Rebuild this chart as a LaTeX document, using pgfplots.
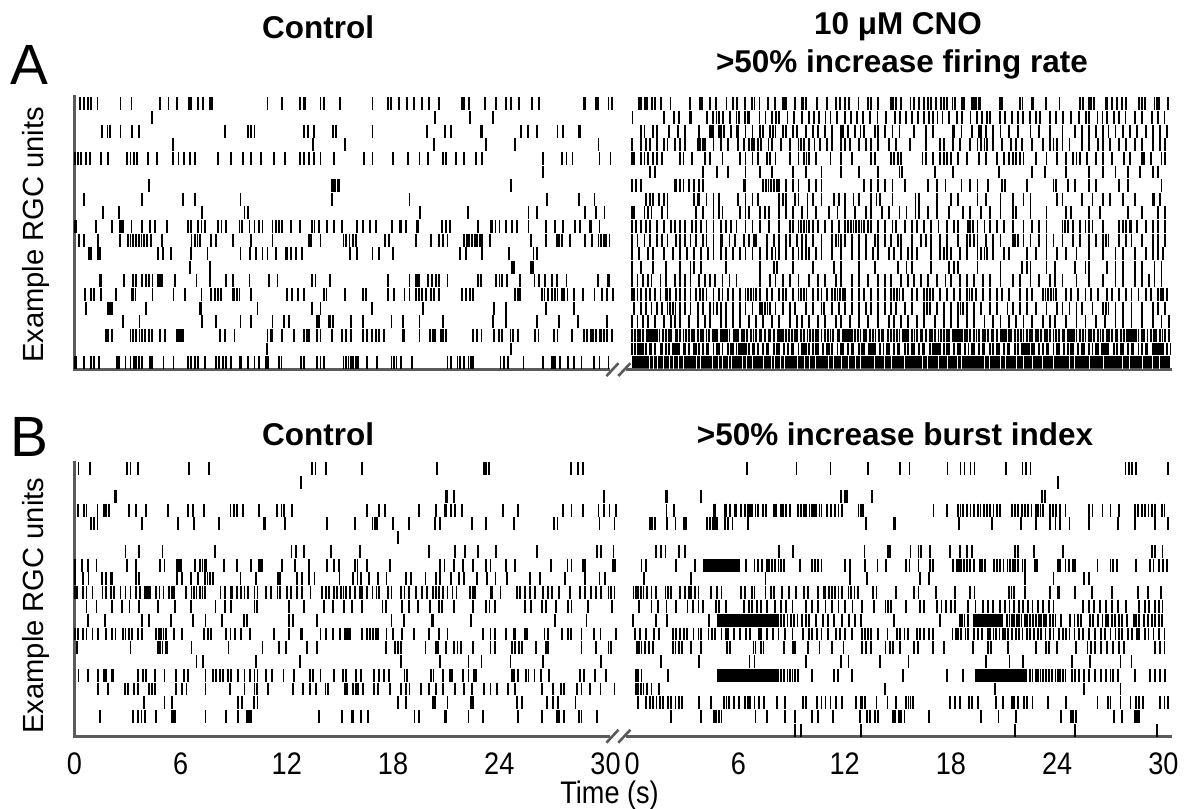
\documentclass[border=0pt]{standalone}
\usepackage{pgfplots}
\pgfplotsset{compat=1.18}
\usepackage{fontspec}
\usepackage{graphicx}
\setmainfont{Liberation Sans}

\definecolor{axg}{RGB}{90,90,90}
\pgfplotsset{
  spk/.style={only marks, mark=|, mark size=2.5pt, line width=0.7pt, black},
  gap/.style={only marks, mark=|, mark size=2.5pt, line width=0.35pt, white},
  bst/.style={no marks, line width=5pt, line cap=butt, black},
  rast/.style={scale only axis, width=14.958cm, xmin=0, xmax=62, clip=false,
    axis line style={draw=none}, ytick=\empty, xtick=\empty, anchor=south west},
}
% one row of spikes: offset, row, times
\newcommand{\R}[3]{\addplot[spk] table[row sep=\\, header=false, x expr=\thisrowno{0}+#1, y expr=#2]{#3};}
% a burst drawn as a solid bar: offset, row, start, end
\newcommand{\Bu}[4]{\addplot[bst] table[row sep=\\, header=false, x expr=\thisrowno{0}+#1, y expr=#2]{#3\\#4\\};}
\newcommand{\ttl}{\fontsize{12.2}{14}\selectfont\bfseries}
\newcommand{\tl}[1]{\scalebox{1}[1.15]{#1}}

\begin{document}
\begin{tikzpicture}
\begin{scope}[x=0.0135cm, y=-0.0135cm]
  \useasboundingbox (0,0) rectangle (1187,816);
  \node[font=\ttl] at (321,27) {Control};
  \node[font=\ttl] at (906,27) {10 μM CNO};
  \node[font=\ttl] at (910,65) {>50\% increase firing rate};
  \node[font=\fontsize{22}{24}\selectfont] at (30,66) {A};
  \node[font=\fontsize{22}{24}\selectfont] at (30,441) {B};
  \node[font=\ttl] at (321,438) {Control};
  \node[font=\ttl] at (903,438) {>50\% increase burst index};
  \node[font=\fontsize{11.3}{13}\selectfont, rotate=90] at (36,237) {Example RGC units};
  \node[font=\fontsize{11.3}{13}\selectfont, rotate=90] at (36,611) {Example RGC units};
  \node[font=\fontsize{10.5}{12}\selectfont] at (615,803) {\tl{Time (s)}};
\end{scope}

% ---------------- panel A ----------------
\begin{axis}[rast, at={(1.0125cm,-5.0355cm)}, height=3.7395cm, ymin=0.49, ymax=20.64]
% control
\R{0}{20}{0.34\\0.56\\0.75\\0.93\\1.31\\2.61\\3.23\\4.85\\5.32\\5.82\\6.47\\6.59\\7.0\\7.28\\7.67\\7.76\\10.91\\11.75\\12.74\\12.97\\13.06\\13.9\\14.09\\15.0\\16.84\\17.72\\17.87\\18.34\\18.8\\19.18\\19.64\\20.05\\20.61\\21.88\\22.01\\22.29\\23.19\\23.82\\24.38\\24.68\\25.09\\25.84\\26.25\\28.79\\28.86\\29.44\\29.57\\30.17\\30.35\\}
\R{0}{19}{4.38\\20.37\\22.33\\23.65\\}
\R{0}{18}{1.55\\1.87\\2.01\\2.61\\3.26\\3.64\\8.49\\9.79\\9.98\\10.17\\12.97\\13.19\\13.53\\14.61\\14.8\\16.84\\19.9\\20.95\\21.27\\22.95\\23.04\\25.24\\25.61\\26.12\\27.29\\27.61\\28.47\\28.56\\}
\R{0}{17}{5.56\\13.49\\15.3\\20.3\\23.23\\24.9\\29.6\\}
\R{0}{16}{0.02\\0.19\\0.37\\0.65\\0.88\\1.49\\1.92\\2.99\\3.17\\3.36\\3.54\\4.16\\4.66\\5.56\\5.88\\6.21\\6.53\\6.81\\8.12\\8.86\\9.51\\9.98\\10.54\\11.29\\11.88\\12.74\\12.97\\13.25\\13.53\\13.9\\14.65\\16.36\\16.84\\18.0\\18.84\\19.49\\19.96\\20.8\\20.99\\21.55\\22.01\\22.67\\23.04\\26.49\\27.52\\27.8\\28.13\\29.66\\30.28\\}
\R{0}{15}{26.49\\}
\R{0}{14}{4.24\\14.55\\14.65\\14.74\\14.87\\14.98\\24.66\\}
\R{0}{13}{0.56\\3.82\\6.16\\6.81\\9.38\\14.55\\18.93\\26.68\\28.5\\29.38\\}
\R{0}{12}{1.64\\2.52\\7.22\\9.61\\9.83\\19.53\\22.25\\25.65\\26.12\\28.86\\29.48\\29.94\\}
\R{0}{11}{0.02\\0.08\\1.21\\2.15\\2.57\\2.67\\2.76\\3.23\\3.82\\4.29\\4.57\\5.22\\6.44\\6.57\\7.0\\7.18\\7.37\\8.12\\8.31\\8.58\\9.33\\9.48\\9.89\\10.17\\10.41\\10.63\\11.19\\11.38\\11.57\\11.75\\12.22\\12.74\\13.43\\13.56\\13.81\\14.27\\14.65\\15.11\\15.95\\16.32\\16.7\\17.03\\17.96\\18.37\\18.47\\18.75\\19.36\\19.44\\20.76\\20.99\\21.21\\22.81\\23.51\\23.6\\23.79\\24.01\\24.38\\24.72\\25.0\\25.65\\26.62\\27.14\\27.61\\28.26\\28.54\\29.1\\29.16\\29.66\\}
\R{0}{10}{0.28\\0.56\\1.36\\2.57\\3.04\\3.17\\3.3\\3.49\\3.64\\3.79\\3.94\\4.1\\4.35\\4.94\\6.62\\6.81\\6.96\\7.09\\7.74\\8.02\\8.96\\9.98\\11.19\\13.25\\13.38\\13.9\\15.2\\15.35\\15.54\\15.73\\15.91\\17.54\\17.78\\19.31\\20.15\\20.61\\20.8\\21.08\\22.01\\22.16\\22.29\\22.48\\22.63\\22.76\\22.89\\23.04\\23.47\\25.8\\26.62\\27.24\\27.37\\27.55\\27.98\\28.82\\29.23\\29.6\\29.76\\29.9\\30.04\\30.22\\}
\R{0}{9}{0.84\\0.93\\1.36\\1.46\\4.72\\5.0\\5.47\\6.59\\7.52\\9.38\\9.94\\10.26\\10.63\\10.91\\11.38\\11.94\\12.03\\12.22\\12.5\\12.87\\15.58\\15.95\\16.84\\17.22\\18.0\\21.77\\22.1\\23.04\\24.57\\25.93\\26.12\\}
\R{0}{8}{6.53\\7.65\\24.72\\24.8\\24.85\\25.8\\25.86\\25.93\\}
\R{0}{7}{1.44\\1.49\\2.8\\3.3\\3.49\\3.82\\4.05\\4.24\\4.42\\4.72\\4.85\\4.94\\5.69\\6.9\\7.65\\8.58\\8.96\\9.89\\11.01\\11.47\\13.43\\13.62\\14.46\\17.72\\18.93\\19.31\\19.4\\19.49\\19.96\\20.2\\20.43\\20.58\\21.08\\22.81\\22.95\\23.82\\24.01\\24.16\\24.44\\25.18\\25.99\\26.25\\26.59\\26.96\\27.24\\27.8\\29.57\\30.13\\30.22\\}
\R{0}{6}{0.62\\0.93\\1.12\\1.49\\2.37\\3.23\\3.3\\3.45\\4.42\\5.6\\6.25\\7.18\\7.74\\7.93\\8.12\\8.3\\8.96\\9.05\\9.2\\9.33\\9.98\\12.03\\12.31\\12.63\\12.97\\14.09\\14.24\\15.3\\16.32\\16.47\\17.72\\18.04\\18.65\\18.93\\19.31\\19.46\\19.64\\19.87\\20.15\\20.33\\20.58\\21.88\\22.1\\22.33\\22.52\\24.9\\25.05\\25.18\\26.4\\26.55\\26.77\\26.96\\27.14\\27.29\\27.52\\27.66\\27.85\\28.23\\28.73\\29.38\\29.79\\30.09\\30.41\\}
\R{0}{5}{0.65\\1.92\\2.01\\2.15\\4.05\\7.09\\7.18\\10.35\\13.43\\13.9\\16.79\\19.68\\23.69\\24.38\\26.62\\28.23\\}
\R{0}{4}{2.76\\3.68\\7.22\\8.02\\9.38\\9.98\\11.19\\11.85\\12.13\\13.71\\13.81\\14.37\\14.46\\14.61\\15.61\\16.29\\17.91\\18.56\\19.49\\20.8\\23.64\\24.38\\26.12\\27.37\\28.45\\30.09\\}
\R{0}{3}{1.77\\1.92\\2.15\\3.17\\3.3\\3.49\\3.68\\3.82\\4.01\\4.2\\4.38\\4.85\\5.13\\5.78\\5.91\\6.03\\6.16\\8.21\\8.49\\9.05\\10.91\\11.1\\11.19\\11.75\\12.41\\12.97\\13.12\\13.25\\13.71\\13.9\\14.55\\15.11\\15.35\\15.61\\16.32\\16.55\\16.79\\17.03\\17.22\\17.48\\18.56\\18.65\\19.49\\20.09\\20.24\\20.39\\20.71\\20.8\\20.99\\22.52\\22.76\\23.0\\23.69\\23.97\\24.16\\24.63\\24.76\\25.05\\26.03\\26.21\\27.1\\27.29\\28.11\\28.79\\28.97\\29.16\\29.29\\29.48\\29.66\\29.76\\29.9\\30.09\\30.35\\}
\R{0}{2}{10.86\\24.68\\}
\R{0}{1}{0.02\\0.09\\0.56\\0.93\\1.12\\1.4\\2.43\\2.52\\2.89\\3.17\\3.36\\3.49\\3.64\\3.82\\4.29\\4.38\\5.04\\5.6\\6.44\\6.59\\6.81\\7.0\\7.37\\8.02\\8.17\\8.4\\8.58\\8.86\\9.33\\9.42\\9.79\\10.17\\10.45\\10.82\\10.95\\11.57\\11.7\\12.78\\12.97\\13.71\\13.9\\14.09\\15.2\\15.35\\15.48\\15.61\\15.76\\15.91\\16.04\\16.51\\17.11\\17.91\\18.04\\18.19\\18.47\\19.08\\21.08\\21.27\\21.64\\21.77\\22.01\\22.26\\22.39\\22.52\\24.07\\24.25\\24.5\\25.37\\26.49\\26.96\\27.05\\27.14\\27.42\\27.89\\28.23\\28.64\\29.34\\29.66\\30.17\\}
% 10 uM CNO
\R{31.5}{20}{0.4\\0.49\\0.71\\0.86\\1.14\\1.27\\1.61\\2.17\\3.28\\3.84\\3.93\\4.4\\4.74\\5.33\\5.7\\5.93\\6.36\\6.78\\6.91\\7.19\\7.66\\8.09\\8.5\\8.59\\8.68\\9.2\\9.58\\9.65\\9.8\\10.45\\11.01\\11.51\\11.76\\12.04\\12.26\\12.78\\13.3\\13.49\\13.9\\14.6\\14.74\\14.92\\15.2\\15.72\\15.94\\16.22\\16.5\\16.69\\16.87\\17.15\\17.43\\17.62\\17.77\\18.09\\18.22\\18.64\\18.74\\19.2\\19.3\\19.44\\19.57\\19.67\\20.79\\20.88\\21.9\\22.05\\22.55\\22.65\\23.39\\24.14\\25.29\\25.44\\25.81\\25.91\\26.09\\26.74\\26.84\\27.12\\27.4\\27.68\\27.9\\28.61\\28.79\\28.98\\29.5\\29.63\\29.76\\30.25\\}
\R{31.5}{19}{0.02\\1.79\\2.35\\2.63\\3.25\\3.32\\4.21\\4.59\\4.77\\4.92\\5.11\\5.52\\5.89\\6.04\\6.36\\6.54\\6.63\\7.19\\7.53\\7.9\\8.12\\8.31\\8.78\\9.15\\9.58\\9.99\\10.27\\10.55\\10.92\\11.2\\11.57\\12.04\\12.37\\12.69\\13.06\\13.43\\13.86\\14.36\\14.83\\15.11\\15.48\\15.79\\16.13\\16.5\\16.78\\16.97\\17.25\\17.53\\17.9\\18.36\\18.64\\19.11\\19.48\\19.76\\20.04\\20.23\\20.79\\21.06\\21.44\\21.81\\22.09\\22.46\\22.83\\23.02\\23.58\\23.95\\24.32\\24.79\\25.25\\25.63\\25.81\\26.28\\26.56\\26.84\\27.21\\27.49\\27.86\\28.42\\28.79\\29.35\\29.72\\30.06\\}
\R{31.5}{18}{0.5\\0.7\\1.2\\1.4\\2.1\\2.6\\3.0\\3.8\\4.4\\4.5\\4.6\\4.9\\5.0\\5.2\\5.6\\5.9\\6.0\\6.4\\6.8\\7.2\\7.4\\7.8\\7.95\\8.1\\8.5\\8.7\\9.1\\9.3\\9.8\\10.2\\10.5\\10.9\\11.3\\11.8\\11.9\\12.2\\12.6\\12.9\\13.1\\13.7\\13.9\\14.3\\14.7\\15.1\\15.9\\16.6\\17.0\\18.1\\18.2\\18.6\\19.2\\19.6\\19.7\\20.0\\20.4\\20.8\\21.3\\21.8\\22.5\\23.0\\23.6\\24.3\\25.0\\25.4\\25.8\\26.2\\26.6\\26.9\\27.3\\27.7\\28.1\\28.5\\29.0\\29.4\\29.8\\30.2\\}
\R{31.5}{17}{0.0\\0.5\\0.8\\1.0\\1.4\\1.8\\2.0\\2.4\\2.7\\3.0\\3.7\\3.85\\4.0\\4.1\\4.6\\5.0\\5.4\\6.0\\6.3\\6.6\\6.75\\6.9\\7.1\\7.3\\7.7\\7.9\\8.4\\8.9\\9.4\\9.55\\9.7\\10.0\\10.3\\10.6\\11.0\\11.3\\11.8\\12.0\\12.3\\12.8\\13.2\\13.5\\13.9\\14.5\\14.9\\15.7\\16.6\\17.4\\17.6\\18.1\\18.5\\19.1\\19.5\\19.7\\19.9\\20.05\\20.4\\20.9\\21.4\\21.7\\22.0\\22.6\\23.2\\23.6\\23.8\\24.0\\24.3\\24.7\\25.4\\25.8\\26.3\\26.6\\27.0\\27.5\\27.9\\28.4\\28.8\\29.4\\29.8\\30.1\\}
\R{31.5}{16}{0.0\\0.1\\0.5\\0.7\\0.9\\1.2\\1.4\\1.7\\2.7\\2.9\\3.4\\4.1\\4.4\\5.1\\6.1\\6.4\\6.8\\7.1\\7.6\\7.8\\8.1\\8.9\\9.4\\9.7\\9.85\\10.0\\10.4\\11.2\\11.8\\12.4\\13.5\\13.7\\14.6\\14.8\\15.0\\15.2\\16.4\\16.6\\17.0\\17.4\\17.6\\17.8\\18.0\\18.4\\18.9\\19.6\\20.0\\20.6\\21.0\\21.3\\21.5\\21.7\\21.9\\22.1\\22.8\\23.4\\24.0\\24.5\\24.9\\25.1\\25.3\\25.7\\26.2\\26.6\\27.1\\27.8\\28.1\\28.8\\28.9\\29.3\\29.9\\30.1\\}
\R{31.5}{15}{1.0\\1.3\\4.0\\4.8\\5.4\\6.4\\7.2\\7.9\\9.1\\9.8\\10.7\\11.8\\12.8\\13.9\\15.1\\15.25\\17.1\\18.1\\20.7\\22.6\\23.3\\24.5\\25.8\\26.6\\27.3\\28.0\\28.7\\29.4\\29.7\\}
\R{31.5}{14}{0.0\\0.2\\0.5\\2.4\\2.5\\2.7\\2.9\\3.2\\3.5\\3.8\\4.0\\6.3\\6.4\\7.4\\7.55\\7.7\\7.85\\8.0\\8.2\\8.3\\8.7\\9.1\\9.4\\10.0\\10.4\\10.7\\13.1\\13.5\\13.9\\14.3\\14.7\\15.4\\16.7\\17.2\\17.7\\18.6\\19.1\\19.5\\20.1\\20.9\\21.05\\22.3\\23.8\\23.95\\24.6\\25.0\\25.8\\26.2\\27.5\\28.0\\29.9\\}
\R{31.5}{13}{0.8\\1.0\\1.2\\1.5\\1.8\\2.0\\3.5\\3.7\\3.8\\4.2\\4.6\\4.9\\6.0\\6.4\\6.8\\7.1\\8.3\\8.5\\8.7\\9.2\\9.4\\9.9\\10.2\\10.7\\11.4\\11.7\\12.0\\12.5\\12.8\\13.5\\13.8\\14.0\\14.7\\16.0\\16.2\\17.2\\18.0\\18.4\\19.5\\20.0\\20.8\\21.5\\22.1\\22.5\\24.0\\24.3\\25.4\\26.0\\26.6\\27.0\\27.7\\28.4\\29.4\\29.5\\29.8\\}
\R{31.5}{12}{0.0\\0.1\\0.7\\0.9\\1.1\\1.7\\2.0\\3.6\\4.0\\4.6\\4.9\\5.1\\6.1\\6.4\\6.6\\7.2\\7.5\\7.75\\8.3\\8.7\\9.1\\9.6\\9.9\\10.4\\11.1\\11.6\\12.0\\12.6\\13.2\\13.5\\14.1\\14.5\\15.1\\15.5\\16.0\\16.2\\16.7\\17.2\\17.9\\18.7\\19.1\\19.7\\20.2\\20.8\\21.5\\21.7\\22.5\\23.4\\24.5\\24.8\\25.8\\26.4\\28.0\\28.8\\29.7\\30.1\\}
\R{31.5}{11}{0.0\\0.2\\0.5\\0.8\\1.0\\1.4\\1.8\\2.2\\2.4\\2.7\\3.0\\3.4\\3.6\\3.9\\4.2\\4.6\\5.0\\5.3\\5.6\\5.9\\6.4\\6.8\\7.2\\7.75\\8.3\\8.9\\9.1\\9.4\\9.55\\9.7\\9.85\\10.0\\10.2\\10.5\\10.9\\11.3\\11.7\\12.0\\12.2\\12.35\\12.5\\12.65\\12.8\\12.95\\13.1\\13.3\\13.5\\13.9\\14.3\\14.7\\14.9\\15.4\\15.8\\16.1\\16.5\\16.9\\17.3\\17.8\\18.2\\18.4\\18.95\\19.1\\19.25\\19.5\\19.9\\20.2\\20.6\\21.0\\21.5\\22.1\\22.6\\23.0\\23.4\\24.3\\24.45\\24.6\\24.9\\25.3\\25.6\\25.8\\26.0\\26.6\\27.5\\27.7\\27.9\\28.1\\28.2\\28.5\\29.0\\29.4\\29.7\\30.1\\}
\R{31.5}{10}{0.0\\0.3\\0.7\\1.0\\1.4\\1.7\\2.0\\2.5\\2.7\\3.0\\3.3\\3.6\\4.0\\4.2\\4.6\\5.0\\5.1\\5.5\\5.8\\6.3\\6.6\\6.9\\7.0\\7.6\\8.0\\8.3\\8.7\\8.9\\9.3\\9.6\\9.8\\10.2\\10.7\\11.3\\11.5\\11.65\\11.8\\12.0\\12.4\\12.8\\13.2\\13.7\\13.9\\14.3\\14.6\\15.0\\15.2\\15.8\\16.3\\16.6\\16.9\\17.4\\17.8\\18.4\\18.9\\19.1\\19.3\\19.5\\20.0\\20.4\\20.8\\21.5\\21.6\\21.8\\22.1\\22.5\\23.0\\23.4\\23.8\\24.3\\24.9\\25.3\\25.8\\26.2\\26.6\\26.75\\26.9\\27.5\\27.9\\28.2\\28.8\\29.4\\29.7\\30.1\\}
\R{31.5}{9}{0.0\\0.4\\0.9\\1.2\\1.8\\2.3\\2.7\\3.1\\3.5\\3.9\\4.3\\4.6\\5.0\\5.3\\5.7\\6.1\\6.4\\6.8\\7.2\\7.6\\7.9\\8.1\\8.3\\8.7\\9.1\\9.4\\9.6\\9.8\\10.0\\10.4\\10.7\\11.3\\11.8\\12.4\\12.8\\13.2\\13.6\\13.9\\14.5\\14.8\\15.2\\15.6\\15.8\\16.1\\16.9\\17.4\\17.6\\17.8\\18.0\\18.5\\18.9\\19.5\\19.7\\19.9\\20.05\\20.4\\21.0\\21.3\\22.3\\22.8\\23.4\\24.0\\24.5\\25.1\\25.8\\26.6\\27.3\\27.7\\28.4\\29.0\\29.4\\29.7\\30.0\\}
\R{31.5}{8}{0.0\\0.5\\1.2\\1.9\\2.7\\3.3\\3.5\\3.9\\5.3\\7.2\\8.0\\8.2\\9.1\\10.2\\11.4\\11.8\\12.8\\13.7\\15.0\\15.5\\15.8\\16.9\\17.9\\18.2\\18.4\\19.5\\20.8\\22.0\\22.3\\22.5\\23.4\\23.9\\25.0\\25.6\\25.8\\26.8\\27.3\\27.7\\28.4\\28.8\\29.5\\29.9\\}
\R{31.5}{7}{0.0\\0.3\\0.6\\0.9\\1.1\\1.6\\1.9\\2.4\\2.7\\3.0\\3.3\\3.8\\4.1\\4.4\\4.7\\5.1\\5.5\\5.9\\7.2\\7.8\\8.1\\8.5\\8.9\\9.4\\10.0\\10.5\\10.9\\11.5\\11.8\\12.4\\12.8\\13.3\\13.9\\14.3\\14.6\\15.2\\15.6\\15.9\\16.3\\16.7\\17.2\\17.7\\18.0\\18.5\\18.9\\19.3\\19.8\\20.2\\20.8\\21.5\\21.9\\22.5\\23.0\\23.6\\23.9\\24.3\\25.1\\25.8\\26.6\\27.3\\27.7\\28.4\\28.8\\29.2\\29.5\\29.9\\}
\R{31.5}{6}{0.0\\0.1\\0.3\\0.5\\0.8\\1.0\\1.3\\1.6\\1.9\\2.0\\2.15\\2.5\\2.7\\3.0\\3.3\\3.6\\3.85\\4.0\\4.2\\4.6\\4.9\\5.1\\5.4\\5.7\\6.1\\6.4\\6.55\\6.7\\6.85\\7.0\\7.2\\7.6\\7.9\\8.3\\8.5\\8.7\\9.1\\9.4\\9.55\\9.7\\9.85\\10.2\\10.5\\10.7\\11.0\\11.3\\11.45\\11.6\\11.75\\11.9\\12.0\\12.4\\12.8\\13.1\\13.5\\13.9\\14.3\\14.6\\14.8\\14.95\\15.1\\15.3\\15.8\\16.1\\16.5\\16.65\\16.8\\17.0\\17.4\\17.8\\18.2\\18.5\\18.9\\19.05\\19.2\\19.4\\19.8\\20.2\\20.6\\20.9\\21.3\\21.9\\22.3\\22.6\\23.2\\23.35\\23.5\\23.65\\23.8\\23.95\\24.5\\24.8\\25.2\\25.6\\25.9\\26.3\\26.8\\27.1\\27.5\\27.9\\28.2\\28.6\\29.0\\29.3\\29.7\\29.85\\30.0\\30.2\\}
\R{31.5}{5}{0.1\\0.5\\0.8\\1.1\\1.4\\1.7\\2.0\\2.15\\2.3\\2.45\\2.7\\3.0\\3.3\\3.7\\4.0\\4.4\\4.6\\4.8\\5.0\\5.3\\5.7\\6.1\\6.4\\6.8\\7.2\\7.35\\7.5\\7.65\\7.8\\8.1\\8.5\\8.9\\9.2\\9.8\\10.2\\10.7\\10.85\\11.3\\11.7\\12.0\\12.4\\12.8\\13.2\\13.5\\13.9\\14.3\\14.6\\14.9\\15.4\\15.8\\16.5\\16.65\\16.8\\17.2\\17.6\\18.0\\18.4\\18.55\\18.7\\18.9\\19.3\\19.7\\20.2\\20.6\\21.2\\21.5\\21.9\\22.3\\22.8\\23.4\\24.0\\24.3\\24.7\\25.1\\25.4\\26.0\\26.6\\26.75\\26.9\\27.3\\27.7\\28.2\\28.8\\29.4\\29.7\\30.1\\}
\R{31.5}{4}{0.0\\0.3\\0.6\\0.9\\1.3\\1.8\\2.2\\2.4\\2.7\\3.2\\3.7\\4.1\\4.4\\5.0\\5.3\\5.7\\6.1\\6.6\\7.0\\7.4\\7.9\\8.3\\8.9\\9.3\\9.6\\10.0\\10.5\\10.9\\11.5\\11.8\\12.3\\12.8\\13.3\\13.9\\14.5\\14.8\\15.2\\15.6\\16.1\\16.5\\17.1\\17.6\\18.0\\18.4\\18.9\\19.3\\19.9\\20.4\\20.8\\21.3\\21.7\\22.1\\22.6\\23.2\\23.6\\23.9\\24.5\\25.1\\25.6\\26.2\\26.7\\27.3\\27.7\\28.2\\28.8\\29.4\\29.9\\30.3\\}
\R{31.5}{3}{0.0\\0.15\\0.35\\0.45\\0.6\\0.85\\0.95\\1.1\\1.3\\1.4\\1.55\\1.75\\1.9\\2.1\\2.2\\2.45\\2.55\\2.7\\2.9\\3.05\\3.2\\3.4\\3.5\\3.7\\3.9\\4.0\\4.2\\4.35\\4.55\\4.7\\4.8\\5.0\\5.2\\5.3\\5.5\\5.75\\5.85\\6.0\\6.2\\6.3\\6.5\\6.7\\6.85\\7.0\\7.2\\7.3\\7.5\\7.7\\7.8\\8.0\\8.25\\8.35\\8.5\\8.7\\8.85\\9.05\\9.2\\9.3\\9.55\\9.7\\9.9\\10.05\\10.2\\10.4\\10.5\\10.7\\10.9\\11.05\\11.2\\11.35\\11.6\\11.7\\11.9\\12.1\\12.2\\12.4\\12.6\\12.75\\12.9\\13.1\\13.2\\13.45\\13.6\\13.75\\13.95\\14.1\\14.2\\14.45\\14.6\\14.8\\14.95\\15.1\\15.3\\15.4\\15.6\\15.8\\15.95\\16.1\\16.3\\16.4\\16.6\\16.8\\16.95\\17.1\\17.3\\17.45\\17.6\\17.8\\17.9\\18.1\\18.3\\18.45\\18.6\\18.8\\18.9\\19.1\\19.3\\19.45\\19.6\\19.8\\19.95\\20.1\\20.3\\20.4\\20.6\\20.8\\20.95\\21.1\\21.3\\21.4\\21.6\\21.8\\21.95\\22.1\\22.3\\22.45\\22.6\\22.8\\22.9\\23.1\\23.3\\23.45\\23.6\\23.8\\23.95\\24.1\\24.3\\24.4\\24.6\\24.8\\24.95\\25.1\\25.3\\25.45\\25.6\\25.8\\25.9\\26.1\\26.3\\26.45\\26.6\\26.8\\26.95\\27.1\\27.3\\27.4\\27.6\\27.8\\27.95\\28.1\\28.3\\28.45\\28.6\\28.8\\28.9\\29.1\\29.3\\29.45\\29.6\\29.8\\29.95\\30.1\\30.3\\}
\Bu{31.5}{3}{0.9}{1.3} \Bu{31.5}{3}{5.1}{5.4} \Bu{31.5}{3}{8.2}{8.5} \Bu{31.5}{3}{11.9}{12.4}
\Bu{31.5}{3}{15.3}{15.6} \Bu{31.5}{3}{18.2}{18.7} \Bu{31.5}{3}{20.8}{21.1} \Bu{31.5}{3}{24.6}{24.9} \Bu{31.5}{3}{27.9}{28.5}
\R{31.5}{2}{0.0\\0.15\\0.3\\0.5\\0.6\\0.8\\1.0\\1.1\\1.3\\1.6\\1.7\\1.9\\2.1\\2.3\\2.4\\2.6\\2.9\\3.0\\3.2\\3.5\\3.6\\3.8\\4.0\\4.2\\4.3\\4.6\\4.8\\4.9\\5.1\\5.4\\5.6\\5.7\\5.9\\6.2\\6.3\\6.6\\6.8\\6.9\\7.1\\7.4\\7.6\\7.7\\8.0\\8.2\\8.3\\8.6\\8.8\\9.0\\9.1\\9.4\\9.6\\9.7\\10.0\\10.2\\10.4\\10.5\\10.8\\11.0\\11.1\\11.3\\11.6\\11.8\\11.9\\12.2\\12.4\\12.5\\12.8\\13.0\\13.1\\13.4\\13.6\\13.7\\14.0\\14.2\\14.4\\14.5\\14.8\\15.0\\15.1\\15.4\\15.6\\15.8\\15.9\\16.2\\16.4\\16.5\\16.8\\17.0\\17.1\\17.4\\17.6\\17.8\\17.9\\18.2\\18.4\\18.5\\18.8\\19.0\\19.2\\19.3\\19.6\\19.8\\19.9\\20.2\\20.4\\20.6\\20.7\\21.0\\21.2\\21.3\\21.6\\21.8\\22.0\\22.1\\22.4\\22.6\\22.7\\23.0\\23.2\\23.4\\23.5\\23.8\\24.0\\24.1\\24.4\\24.6\\24.8\\24.9\\25.2\\25.4\\25.5\\25.8\\26.0\\26.2\\26.3\\26.6\\26.8\\26.9\\27.2\\27.4\\27.6\\27.7\\28.0\\28.2\\28.3\\28.6\\28.8\\29.0\\29.1\\29.4\\29.6\\29.7\\30.0\\30.2\\30.4\\}
\Bu{31.5}{2}{0.3}{0.6} \Bu{31.5}{2}{2.4}{2.7} \Bu{31.5}{2}{6.0}{6.5} \Bu{31.5}{2}{9.6}{9.9} \Bu{31.5}{2}{13.4}{13.8}
\Bu{31.5}{2}{17.0}{17.4} \Bu{31.5}{2}{22.0}{22.4} \Bu{31.5}{2}{26.5}{26.9} \Bu{31.5}{2}{29.5}{29.9}
\Bu{31.5}{1}{0.0}{30.4}
\addplot[gap] table[row sep=\\, header=false, x expr=\thisrowno{0}+31.5, y expr=1]{0.96\\1.23\\1.42\\1.75\\2.13\\2.35\\2.63\\2.91\\3.65\\3.88\\4.55\\4.87\\5.11\\5.42\\5.61\\6.23\\6.45\\6.82\\7.42\\7.85\\8.03\\8.4\\8.59\\9.34\\9.71\\9.99\\10.36\\11.1\\11.38\\11.85\\12.22\\12.59\\12.87\\13.71\\14.27\\14.64\\15.4\\16.4\\16.7\\17.3\\17.8\\18.4\\18.6\\19.9\\20.2\\20.8\\21.1\\21.7\\22.1\\22.6\\23.2\\23.8\\24.7\\25.0\\25.8\\26.6\\27.7\\28.1\\28.8\\29.4\\29.8\\};
% axis lines and break
\draw[axg, line width=1pt] (axis cs:0,20.64) -- (axis cs:0,0.49) -- (axis cs:30.27,0.49);
\draw[axg, line width=1pt] (axis cs:31.17,0.49) -- (axis cs:62,0.49);
\draw[axg, line width=1pt] (axis cs:30.05,0.02) -- (axis cs:30.73,0.96);
\draw[axg, line width=1pt] (axis cs:30.72,0.02) -- (axis cs:31.4,0.96);
\end{axis}

% ---------------- panel B ----------------
\begin{axis}[rast, at={(1.0125cm,-10.0305cm)}, height=3.753cm, ymin=0.57, ymax=20.58,
  xtick={0,6,12,18,24,30,31.5,37.5,43.5,49.5,55.5,61.5},
  xticklabels={\tl{0},\tl{6},\tl{12},\tl{18},\tl{24},\tl{30},\tl{0},\tl{6},\tl{12},\tl{18},\tl{24},\tl{30}},
  major tick length=0pt, xticklabel style={font=\fontsize{10.5}{12}\selectfont, yshift=-3pt}]
% control
\R{0}{20}{0.24\\0.88\\2.99\\3.17\\3.6\\6.47\\7.59\\13.43\\13.62\\14.23\\16.23\\20.46\\23.13\\23.26\\23.41\\28.04\\28.45\\28.73\\}
\R{0}{19}{12.82\\}
\R{0}{18}{2.29\\2.37\\20.99\\21.08\\21.45\\29.9\\}
\R{0}{17}{0.19\\0.56\\0.69\\1.31\\1.68\\1.81\\1.96\\3.08\\3.49\\4.05\\5.28\\6.44\\6.72\\7.33\\8.82\\9.0\\9.2\\9.51\\10.45\\11.44\\11.7\\11.85\\12.31\\16.51\\17.22\\17.54\\19.46\\20.43\\20.9\\20.99\\21.27\\21.51\\21.88\\24.2\\25.05\\27.61\\28.08\\28.73\\29.6\\29.9\\30.22\\30.6\\}
\R{0}{16}{0.93\\1.12\\1.31\\3.82\\5.84\\6.77\\8.15\\10.69\\10.76\\11.88\\14.27\\15.86\\16.84\\16.98\\17.11\\18.0\\18.9\\20.39\\20.65\\22.44\\23.26\\24.81\\27.1\\27.29\\29.66\\30.5\\}
\R{0}{15}{18.28\\}
\R{0}{14}{2.89\\3.64\\4.98\\7.93\\12.26\\12.5\\12.97\\14.5\\16.14\\20.05\\21.51\\22.07\\22.81\\23.82\\26.12\\29.53\\29.76\\30.45\\}
\R{0}{13}{0.06\\0.43\\0.75\\1.25\\2.99\\3.49\\4.85\\5.09\\5.78\\5.91\\6.03\\6.81\\7.09\\7.24\\7.37\\7.46\\8.45\\9.2\\9.98\\10.45\\10.54\\10.63\\11.75\\12.44\\13.25\\14.27\\14.65\\14.93\\15.86\\15.99\\16.55\\17.85\\20.65\\20.9\\21.45\\21.96\\22.52\\23.26\\23.5\\24.38\\24.87\\26.92\\27.85\\28.08\\28.73\\28.82\\30.41\\30.54\\}
\R{0}{12}{0.06\\0.47\\0.8\\1.55\\1.81\\2.05\\2.15\\3.49\\3.64\\5.78\\6.1\\6.59\\6.99\\7.37\\7.52\\7.65\\7.84\\9.38\\10.26\\11.51\\11.63\\12.56\\12.87\\13.25\\13.56\\14.98\\15.76\\15.99\\16.17\\16.66\\17.16\\17.63\\18.71\\19.03\\19.83\\20.43\\20.65\\21.27\\21.73\\22.01\\22.76\\23.32\\23.79\\24.44\\25.74\\26.3\\27.7\\28.82\\29.66\\29.98\\}
\R{0}{11}{0.02\\0.13\\0.47\\0.69\\1.03\\1.59\\1.77\\2.05\\2.24\\2.61\\2.89\\3.17\\3.49\\3.73\\3.97\\4.07\\4.16\\4.29\\4.61\\4.81\\5.04\\5.35\\5.5\\5.65\\6.29\\6.62\\6.77\\6.9\\7.09\\7.24\\7.37\\8.26\\8.49\\8.82\\8.9\\9.2\\9.42\\9.61\\9.83\\10.17\\10.35\\10.82\\11.1\\11.47\\11.63\\12.03\\12.22\\12.59\\12.87\\13.34\\13.99\\14.23\\14.37\\14.65\\14.83\\15.06\\15.2\\15.35\\15.58\\15.86\\16.14\\16.23\\16.51\\16.84\\17.07\\17.22\\17.72\\17.91\\18.47\\18.65\\18.9\\19.31\\19.64\\19.9\\20.24\\20.43\\20.61\\20.8\\21.08\\21.36\\21.58\\22.33\\22.52\\22.63\\23.5\\23.6\\24.07\\25.0\\25.18\\25.46\\25.74\\26.03\\26.49\\26.77\\26.96\\27.37\\27.98\\28.54\\28.82\\29.2\\29.48\\29.76\\30.17\\30.32\\30.5\\}
\R{0}{10}{0.69\\1.25\\2.11\\2.71\\3.12\\3.64\\4.72\\5.69\\6.59\\7.97\\8.49\\8.86\\10.17\\10.32\\12.13\\12.97\\14.09\\14.61\\15.24\\15.67\\16.23\\17.4\\17.59\\18.52\\18.9\\19.4\\20.09\\20.58\\20.76\\21.45\\22.52\\23.26\\23.45\\23.75\\25.43\\25.8\\26.43\\26.62\\27.18\\27.89\\28.08\\29.01\\30.35\\}
\R{0}{9}{0.75\\1.74\\3.82\\4.24\\5.47\\6.72\\7.41\\8.34\\9.57\\9.76\\12.13\\12.37\\13.71\\17.91\\18.6\\20.2\\20.24\\22.39\\27.14\\28.92\\}
\R{0}{8}{0.06\\0.19\\0.47\\0.69\\1.03\\1.36\\1.77\\2.11\\2.33\\2.74\\2.89\\3.08\\3.26\\3.6\\3.82\\4.61\\4.76\\4.91\\5.04\\5.17\\5.65\\6.1\\7.33\\7.56\\7.7\\8.58\\8.82\\9.08\\9.42\\9.94\\11.29\\12.13\\12.78\\12.87\\13.9\\14.23\\14.61\\15.02\\15.3\\15.39\\15.48\\15.58\\16.23\\16.51\\16.7\\16.88\\17.03\\17.16\\17.63\\18.0\\18.52\\19.16\\20.02\\20.58\\21.08\\23.08\\23.5\\23.75\\24.38\\24.81\\24.9\\25.43\\25.56\\26.55\\26.77\\27.52\\27.89\\28.04\\28.64\\29.34\\29.72\\30.6\\}
\R{0}{7}{0.13\\3.17\\4.72\\4.85\\4.98\\5.17\\5.22\\6.62\\8.71\\10.63\\11.57\\11.94\\13.12\\13.71\\17.59\\18.09\\18.28\\18.47\\19.83\\20.43\\20.52\\20.99\\21.45\\21.64\\21.83\\22.52\\23.5\\23.75\\24.72\\24.9\\25.13\\25.28\\26.06\\26.62\\26.73\\28.64\\29.48\\30.17\\30.32\\}
\R{0}{6}{6.9\\7.28\\10.26\\12.74\\18.47\\20.65\\22.26\\23.0\\24.63\\26.49\\29.76\\}
\R{0}{5}{0.24\\0.75\\1.36\\1.68\\1.77\\2.11\\2.18\\3.6\\3.86\\4.05\\4.57\\5.09\\5.73\\6.21\\6.4\\7.41\\7.84\\8.02\\8.21\\8.4\\8.68\\8.86\\9.24\\9.61\\9.94\\10.17\\10.35\\10.82\\11.16\\11.81\\12.41\\13.3\\13.49\\13.9\\14.65\\15.17\\15.35\\15.91\\16.17\\16.92\\17.22\\17.48\\17.78\\18.65\\18.78\\20.15\\20.28\\20.8\\21.21\\21.32\\21.96\\22.26\\22.57\\22.7\\24.72\\24.81\\25.05\\25.5\\25.65\\25.99\\26.36\\26.81\\28.54\\28.79\\29.42\\30.04\\}
\R{0}{4}{1.36\\1.92\\2.85\\3.04\\3.36\\3.6\\4.24\\4.38\\4.57\\5.73\\6.1\\6.34\\7.41\\8.77\\9.61\\10.17\\10.32\\10.95\\12.37\\12.93\\13.3\\13.67\\14.18\\14.31\\15.3\\15.39\\15.76\\15.91\\16.04\\16.32\\16.92\\17.16\\17.81\\18.47\\18.75\\18.93\\19.59\\20.05\\20.43\\20.8\\21.51\\22.01\\22.44\\23.13\\23.5\\23.88\\24.5\\24.9\\26.43\\27.05\\27.48\\27.66\\28.41\\28.64\\29.1\\29.72\\30.5\\}
\R{0}{3}{3.92\\5.09\\5.5\\9.24\\9.46\\10.13\\10.35\\18.28\\18.71\\20.24\\20.39\\21.08\\22.39\\22.52\\25.0\\25.28\\26.68\\27.05\\27.33\\28.3\\}
\R{0}{2}{1.44\\3.3\\3.6\\3.79\\4.01\\4.61\\5.5\\5.6\\5.69\\7.41\\8.58\\9.24\\9.76\\9.87\\9.98\\13.81\\15.11\\15.67\\15.76\\16.17\\16.6\\19.21\\19.46\\20.95\\20.99\\22.26\\23.08\\25.05\\26.43\\27.24\\27.37\\27.66\\28.49\\28.64\\29.53\\}
% 10 uM CNO
\R{31.5}{20}{6.49\\9.28\\11.2\\13.34\\15.11\\15.66\\17.81\\18.55\\18.77\\19.11\\19.33\\21.12\\22.05\\22.24\\22.5\\27.86\\28.05\\28.23\\28.46\\30.25\\}
\R{31.5}{19}{24.04\\}
\R{31.5}{18}{1.89\\1.98\\3.88\\11.81\\12.04\\12.13\\13.56\\23.17\\23.3\\}
\R{31.5}{17}{1.94\\2.35\\4.64\\4.67\\4.7\\5.24\\5.33\\5.52\\5.8\\5.89\\6.17\\6.36\\6.54\\6.67\\6.78\\6.97\\7.1\\7.38\\7.57\\8.03\\8.12\\8.4\\8.53\\8.68\\8.91\\9.39\\9.52\\9.71\\9.8\\10.02\\10.14\\10.27\\10.4\\10.58\\10.69\\11.01\\11.25\\11.48\\11.66\\11.85\\12.78\\12.93\\13.06\\17.02\\17.77\\18.4\\18.55\\18.7\\18.89\\19.11\\19.3\\19.52\\19.67\\19.85\\20.04\\20.23\\20.41\\20.6\\20.79\\21.44\\21.62\\21.81\\22.0\\22.18\\22.37\\22.55\\22.8\\22.93\\23.06\\23.21\\23.58\\23.77\\23.95\\24.17\\24.47\\25.78\\26.0\\26.56\\27.02\\27.49\\28.38\\28.57\\28.79\\28.98\\29.16\\29.35\\29.54\\29.91\\30.06\\}
\R{31.5}{16}{1.01\\1.14\\1.27\\1.98\\2.45\\2.91\\3.06\\4.25\\4.4\\4.55\\4.62\\4.74\\4.81\\5.24\\5.42\\5.67\\6.54\\13.19\\14.79\\14.83\\18.46\\20.32\\21.94\\22.8\\23.62\\23.91\\24.17\\24.7\\25.78\\27.45\\28.38\\29.54\\30.25\\}
\R{31.5}{14}{1.33\\1.61\\1.89\\2.63\\3.0\\8.31\\9.09\\13.12\\14.46\\14.55\\15.72\\16.17\\16.32\\16.84\\17.95\\18.51\\18.89\\19.2\\21.62\\21.81\\22.68\\24.32\\29.35\\29.54\\29.95\\}
\R{31.5}{13}{0.53\\0.77\\2.5\\3.56\\6.45\\6.91\\7.1\\7.34\\7.6\\7.75\\7.9\\8.09\\8.27\\8.4\\8.59\\9.47\\10.14\\10.32\\10.51\\10.69\\12.04\\12.31\\13.15\\13.86\\14.36\\15.48\\15.66\\16.17\\16.84\\16.97\\18.14\\18.33\\18.46\\18.59\\18.74\\18.89\\19.07\\19.3\\19.63\\19.76\\19.95\\20.45\\20.6\\20.79\\20.97\\21.2\\21.34\\21.49\\21.62\\21.81\\22.05\\22.18\\22.74\\22.87\\24.04\\24.17\\24.47\\24.66\\24.88\\25.03\\26.28\\27.02\\27.15\\27.4\\28.46\\29.26\\29.44\\29.76\\30.0\\30.19\\}
\Bu{31.5}{13}{4.03}{6.08}
\R{31.5}{12}{0.68\\3.32\\7.53\\12.31\\13.25\\16.28\\16.78\\22.18\\23.8\\25.53\\25.78\\}
\R{31.5}{11}{0.08\\0.21\\0.34\\0.49\\0.64\\0.86\\1.09\\1.33\\1.89\\2.02\\2.2\\2.72\\3.0\\3.19\\3.32\\3.56\\3.75\\4.44\\4.81\\5.05\\6.17\\6.36\\6.78\\6.91\\7.53\\7.85\\8.03\\8.46\\8.87\\9.24\\9.71\\9.95\\10.51\\10.82\\10.92\\11.14\\11.29\\11.44\\11.66\\11.85\\12.22\\12.37\\12.56\\12.74\\13.62\\13.8\\14.92\\15.91\\16.17\\17.15\\18.22\\19.07\\19.33\\21.3\\21.43\\21.57\\22.18\\23.58\\24.04\\24.14\\25.03\\25.96\\27.08\\28.57\\29.13\\29.87\\}
\R{31.5}{10}{0.4\\1.09\\1.46\\1.94\\2.5\\3.13\\3.43\\3.75\\3.99\\4.74\\4.92\\5.29\\6.3\\6.6\\6.78\\7.04\\7.29\\7.6\\8.09\\8.4\\8.68\\9.06\\9.8\\10.14\\10.51\\10.92\\11.29\\11.66\\12.04\\12.45\\13.0\\13.67\\14.31\\14.46\\14.61\\15.48\\16.28\\16.5\\17.21\\17.47\\17.71\\17.99\\18.22\\18.96\\19.39\\19.82\\20.08\\20.38\\20.79\\21.06\\21.31\\21.57\\21.87\\22.09\\22.37\\22.61\\22.93\\23.21\\23.54\\23.8\\25.48\\25.81\\26.09\\26.41\\26.74\\27.12\\27.45\\27.9\\28.61\\28.98\\29.2\\29.54\\29.76\\29.95\\}
\R{31.5}{9}{0.05\\1.33\\1.98\\4.36\\8.4\\8.59\\8.78\\8.96\\9.15\\9.34\\9.61\\9.8\\9.99\\10.4\\10.77\\11.07\\11.38\\11.85\\12.26\\12.59\\12.93\\14.79\\17.4\\18.51\\18.64\\18.77\\18.96\\21.16\\21.31\\21.44\\21.57\\21.72\\21.87\\21.99\\22.18\\22.31\\22.46\\22.65\\22.83\\22.98\\23.11\\23.24\\23.39\\23.58\\23.77\\23.91\\24.23\\24.73\\24.98\\25.16\\25.35\\25.85\\26.04\\26.33\\26.56\\26.74\\26.89\\27.08\\27.27\\27.49\\27.68\\27.96\\28.33\\28.46\\28.61\\28.89\\29.13\\29.35\\29.54\\29.76\\29.91\\}
\Bu{31.5}{9}{4.77}{8.31} \Bu{31.5}{9}{19.26}{20.97}
\R{31.5}{8}{0.15\\0.45\\0.77\\1.23\\1.51\\2.31\\2.5\\2.72\\2.91\\3.1\\3.47\\3.75\\3.88\\4.31\\4.49\\4.68\\5.05\\5.29\\5.42\\5.74\\6.08\\6.45\\6.67\\7.16\\7.29\\7.6\\7.94\\8.27\\8.65\\9.06\\9.65\\9.99\\10.17\\10.45\\10.69\\11.07\\11.51\\11.76\\12.04\\12.41\\12.97\\13.15\\13.34\\13.49\\13.9\\14.42\\14.98\\15.11\\15.38\\15.57\\16.09\\16.28\\16.5\\16.78\\16.97\\18.09\\18.27\\18.4\\18.59\\18.83\\18.96\\19.3\\19.52\\19.76\\20.08\\20.23\\20.41\\20.56\\20.75\\20.93\\21.06\\21.25\\21.44\\21.68\\21.87\\22.05\\22.28\\22.46\\22.68\\22.93\\23.11\\23.35\\23.58\\23.8\\24.1\\24.32\\24.51\\24.7\\24.98\\25.22\\25.48\\25.81\\26.15\\26.47\\26.71\\27.02\\27.3\\27.49\\27.68\\28.01\\28.23\\28.51\\28.64\\28.98\\29.16\\29.44\\29.76\\30.06\\}
\R{31.5}{7}{0.27\\0.4\\0.53\\0.71\\0.96\\1.2\\2.31\\2.45\\2.63\\2.82\\3.32\\3.88\\5.37\\5.55\\6.86\\6.97\\7.29\\7.42\\8.59\\9.09\\9.2\\9.95\\10.58\\11.29\\11.94\\12.97\\13.19\\13.49\\14.31\\14.55\\14.74\\15.11\\15.91\\16.13\\16.97\\17.62\\19.26\\20.08\\20.26\\21.25\\22.8\\23.39\\23.54\\23.99\\25.07\\25.72\\25.91\\26.15\\26.47\\26.84\\27.15\\27.49\\27.77\\29.54\\29.82\\30.06\\}
\R{31.5}{6}{1.64\\3.8\\6.63\\6.91\\9.84\\11.81\\12.22\\13.99\\15.61\\20.0\\21.31\\22.09\\24.85\\25.85\\27.58\\28.2\\}
\R{31.5}{5}{0.21\\0.34\\0.53\\2.02\\8.4\\8.59\\8.78\\8.91\\9.06\\9.2\\9.39\\10.14\\11.38\\11.63\\12.41\\15.29\\17.77\\18.7\\22.46\\22.61\\22.8\\22.93\\23.06\\23.21\\23.39\\23.54\\23.73\\23.91\\24.04\\24.17\\24.32\\24.47\\24.85\\25.03\\25.25\\25.53\\25.81\\26.15\\26.47\\26.74\\27.02\\27.15\\27.45\\28.42\\29.26\\29.54\\29.82\\30.1\\}
\Bu{31.5}{5}{4.77}{8.31} \Bu{31.5}{5}{19.39}{22.31}
\R{31.5}{4}{0.21\\0.34\\0.49\\0.64\\0.86\\1.09\\1.51\\14.27\\20.51\\25.53\\27.58\\}
\R{31.5}{3}{0.34\\0.77\\1.01\\1.2\\1.38\\1.57\\1.76\\2.02\\2.2\\2.45\\2.63\\2.82\\3.8\\4.44\\5.18\\5.33\\5.48\\5.74\\6.04\\6.36\\6.54\\6.67\\6.91\\7.16\\7.47\\8.16\\8.65\\9.65\\9.8\\10.45\\10.69\\10.92\\11.2\\11.51\\11.85\\12.63\\12.93\\13.0\\13.15\\13.8\\14.42\\14.92\\15.48\\15.61\\15.72\\15.85\\17.95\\18.22\\18.51\\19.02\\19.2\\19.52\\20.56\\20.93\\21.44\\21.57\\21.81\\22.13\\22.31\\22.61\\23.49\\24.51\\26.28\\26.89\\27.02\\27.58\\28.14\\28.46\\28.64\\28.83\\29.82\\30.06\\30.25\\}
\R{31.5}{2}{2.2\\3.88\\4.62\\4.74\\4.92\\5.05\\6.97\\7.6\\8.65\\9.2\\10.14\\10.51\\11.33\\12.87\\13.25\\13.43\\13.71\\13.9\\14.74\\14.86\\15.05\\15.2\\15.38\\16.78\\19.7\\20.69\\21.68\\24.23\\24.79\\24.92\\25.07\\27.21\\27.68\\28.38\\28.51\\28.64\\}
\R{31.5}{1}{9.2\\9.52\\12.93\\21.62\\25.03\\29.63\\}
% axis lines and break
\draw[axg, line width=1pt] (axis cs:0,20.58) -- (axis cs:0,0.57) -- (axis cs:30.27,0.57);
\draw[axg, line width=1pt] (axis cs:31.17,0.57) -- (axis cs:62,0.57);
\draw[axg, line width=1pt] (axis cs:30.05,0.1) -- (axis cs:30.73,1.04);
\draw[axg, line width=1pt] (axis cs:30.72,0.1) -- (axis cs:31.4,1.04);
\end{axis}
\end{tikzpicture}
\end{document}
